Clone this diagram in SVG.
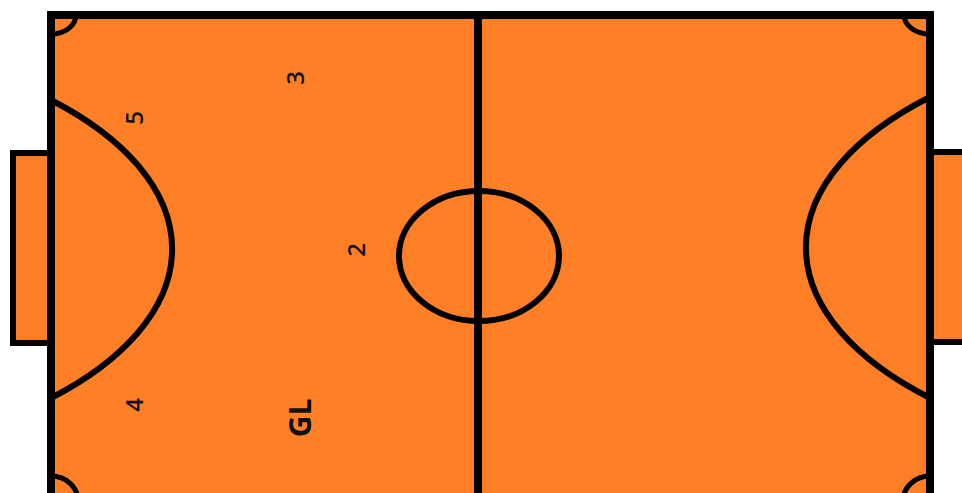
<svg xmlns="http://www.w3.org/2000/svg" width="962" height="493" viewBox="0 0 962 493">
<style>
.fill{fill:#FF7F27}
.ln{fill:none;stroke:#000;stroke-linecap:butt}
.lbl{font-family:"Open Sans","DejaVu Sans",sans-serif;font-size:24px;font-weight:600;fill:#111;text-anchor:middle;dominant-baseline:central}
.gl{font-size:30px;font-weight:700}
</style>
<rect width="962" height="493" fill="#fff"/>
<g id="goal-left"><rect class="fill" x="13" y="153" width="38" height="190" stroke="#000" stroke-width="6"/></g>
<g id="goal-right"><rect class="fill" x="930" y="152" width="40" height="190" stroke="#000" stroke-width="6"/></g>
<g id="field">
<rect class="fill" x="51" y="15" width="879" height="486" stroke="#000" stroke-width="8"/>
<line class="ln" x1="478" y1="15" x2="478" y2="501" stroke-width="8"/>
<ellipse class="ln" cx="479" cy="256" rx="80" ry="65" stroke-width="6"/>
<path class="ln" d="M51 100 A434 215 0 0 1 51 398" stroke-width="6"/>
<path class="ln" d="M930 97 A434 215 0 0 0 930 398" stroke-width="6"/>
<path class="ln" d="M76 15 A25 19 0 0 1 51 34" stroke-width="5"/>
<path class="ln" d="M930 34 A26 19 0 0 1 904 15" stroke-width="5"/>
<path class="ln" d="M51 476 A27 25 0 0 1 78 501" stroke-width="5"/>
<path class="ln" d="M903 501 A27 25 0 0 1 930 476" stroke-width="5"/>
</g>
<g id="labels">
<text class="lbl" transform="translate(133 118) rotate(-90)">5</text>
<text class="lbl" transform="translate(294 78) rotate(-90)">3</text>
<text class="lbl" transform="translate(355 250) rotate(-90)">2</text>
<text class="lbl" transform="translate(133 405) rotate(-90)">4</text>
<text class="lbl gl" transform="translate(299 418) rotate(-90)">GL</text>
</g>
</svg>
